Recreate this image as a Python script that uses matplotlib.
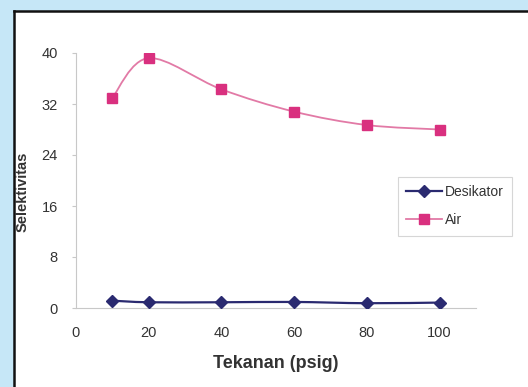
import matplotlib
matplotlib.use("Agg")
import matplotlib.pyplot as plt
import numpy as np
from matplotlib.path import Path
from matplotlib.patches import PathPatch, Rectangle
from matplotlib.lines import Line2D

pressure = [10, 20, 40, 60, 80, 100]
desikator = [1.15, 0.9, 0.9, 0.95, 0.75, 0.85]
air = [33.0, 39.2, 34.3, 30.8, 28.7, 28.0]
x_ticks = [0, 20, 40, 60, 80, 100]
y_ticks = [0, 8, 16, 24, 32, 40]

plt.rcParams['font.family'] = ['Liberation Sans', 'DejaVu Sans']

fig = plt.figure(figsize=(5.28, 3.87), dpi=100)
fig.patch.set_facecolor('#C6E7F7')
# white panel with black border at top-left
fig.patches.append(Rectangle((15/528, 0), 1, 1 - 12/387, transform=fig.transFigure,
                             facecolor='white', edgecolor='none', zorder=-10))
fig.lines.append(Line2D([14/528, 1], [1 - 11/387, 1 - 11/387], transform=fig.transFigure,
                        color='#111111', lw=1.8, zorder=-5))
fig.lines.append(Line2D([14/528, 14/528], [0, 1 - 11/387], transform=fig.transFigure,
                        color='#111111', lw=1.8, zorder=-5))

ax = fig.add_axes([76/528, 1 - 308/387, 400/528, 255/387])
ax.set_facecolor('none')
ax.set_zorder(5)


def smooth_path(xs, ys, tension=0.5):
    xs = np.asarray(xs, float)
    ys = np.asarray(ys, float)
    pts = np.column_stack([xs, ys])
    n = len(pts)
    verts = [pts[0]]
    codes = [Path.MOVETO]
    for i in range(n - 1):
        p0 = pts[i - 1] if i > 0 else pts[i]
        p1 = pts[i]
        p2 = pts[i + 1]
        p3 = pts[i + 2] if i + 2 < n else pts[i + 1]
        c1 = p1 + (p2 - p0) * tension / 3
        c2 = p2 - (p3 - p1) * tension / 3
        verts += [c1, c2, p2]
        codes += [Path.CURVE4] * 3
    return Path(verts, codes)


def draw_curve(xs, ys, color, lw):
    patch = PathPatch(smooth_path(xs, ys), facecolor='none', edgecolor=color, lw=lw, zorder=2)
    ax.add_patch(patch)


draw_curve(pressure, air, '#E27AA6', 1.3)
draw_curve(pressure, desikator, '#2A2A70', 1.6)
ax.plot(pressure, desikator, linestyle='none', marker='D', markersize=6,
        color='#2A2A70', zorder=3)
ax.plot(pressure, air, linestyle='none', marker='s', markersize=6.5,
        color='#D9307F', zorder=3)

ax.set_xlim(0, 110)
ax.set_ylim(0, 40)
ax.set_xticks(x_ticks)
ax.set_yticks(y_ticks)
for s in ['top', 'right']:
    ax.spines[s].set_visible(False)
for s in ['left', 'bottom']:
    ax.spines[s].set_color('#C8C8C8')
    ax.spines[s].set_linewidth(0.8)
ax.tick_params(axis='y', length=3, color='#C8C8C8', labelsize=10.5, labelcolor='#333333', pad=10)
ax.tick_params(axis='x', length=0, labelsize=10.5, labelcolor='#333333', pad=13)

ax.set_xlabel('Tekanan (psig)', fontsize=13, fontweight='bold', color='#333333', labelpad=11)
fig.text(23/528, 1 - 192/387, 'Selektivitas', rotation=90, fontsize=10.5, fontweight='bold',
         color='#333333', ha='center', va='center')

h1 = Line2D([], [], color='#2A2A70', lw=1.6, marker='D', markersize=6)
h2 = Line2D([], [], color='#E27AA6', lw=1.3, marker='s', markersize=6.5,
            markerfacecolor='#D9307F', markeredgecolor='#D9307F')
leg = ax.legend([h1, h2], ['Desikator', 'Air'], loc='upper left',
                bbox_to_anchor=((398 - 76) / 400, (308 - 177) / 255),
                frameon=True, fancybox=False, fontsize=10, handlelength=2.6,
                borderpad=0.6, labelspacing=1.0, handletextpad=0.2, borderaxespad=0)
leg.get_frame().set_edgecolor('#CCCCCC')
leg.get_frame().set_linewidth(0.8)
for t in leg.get_texts():
    t.set_color('#333333')

fig.savefig('out.png', dpi=100, facecolor=fig.get_facecolor())
